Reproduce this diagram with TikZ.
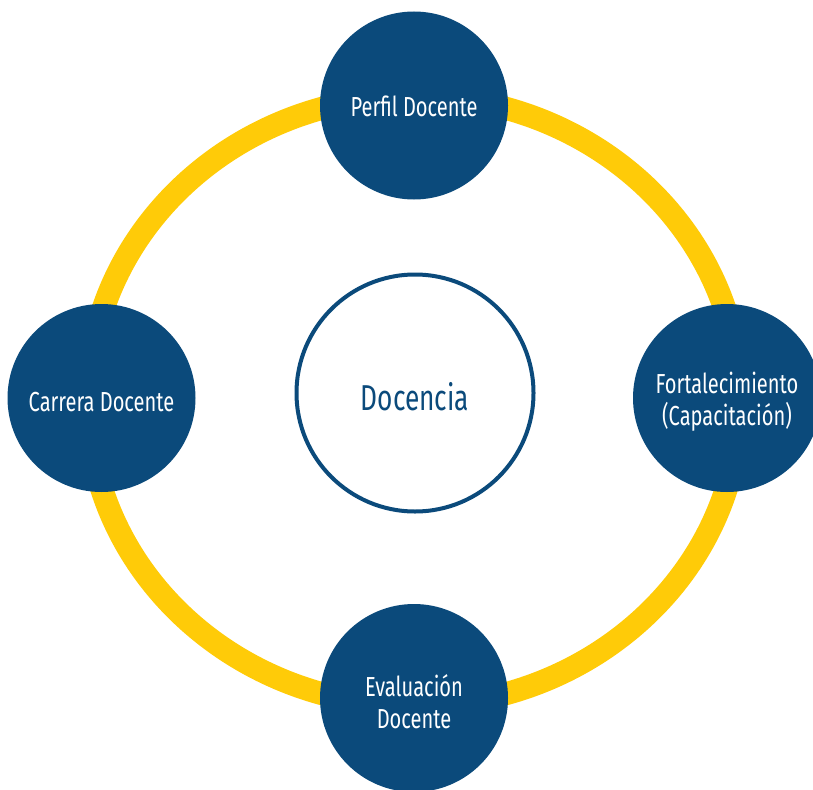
\documentclass[tikz,border=0pt]{standalone}
\usepackage{fontspec}
\setmainfont{Fira Sans}[FakeStretch=0.73]
\definecolor{ringyellow}{HTML}{FFCB08}
\definecolor{navy}{HTML}{0B4A7B}
\begin{document}
\begin{tikzpicture}[x=1pt,y=-1pt,
  topic/.style={circle, fill=navy, draw=none, minimum size=188pt, inner sep=0pt},
  topictext/.style={text=white, align=center, inner sep=0pt, font=\fontsize{27.5}{32}\selectfont},
  hub/.style={circle, draw=navy, line width=4pt, fill=white, minimum size=237pt, inner sep=0pt},
  hubtext/.style={text=navy, inner sep=0pt, font=\fontsize{36}{40}\selectfont}]
\useasboundingbox (0,0) rectangle (813,789);
\coordinate (ringc) at (414,401);
\draw[ringyellow, line width=23pt] (ringc) ellipse [x radius=326pt, y radius=305pt];
\node[hub] (doc) at (415,393) {};
\node[hubtext, yshift=-4pt] (doct) at (doc) {Docencia};
\node[topic] (perfil) at (414,105.5) {};
\node[topictext, yshift=-1pt] (perfilt) at (perfil) {Perfil Docente};
\node[topic] (carrera) at (101.5,398) {};
\node[topictext, yshift=-4pt] (carrerat) at (carrera) {Carrera Docente};
\node[topic] (fort) at (727,398) {};
\node[topictext, yshift=-4pt] (fortt) at (fort) {Fortalecimiento\\(Capacitación)};
\node[topic] (eval) at (414,698) {};
\node[topictext, yshift=-4pt] (evalt) at (eval) {Evaluación\\Docente};
\end{tikzpicture}
\end{document}
